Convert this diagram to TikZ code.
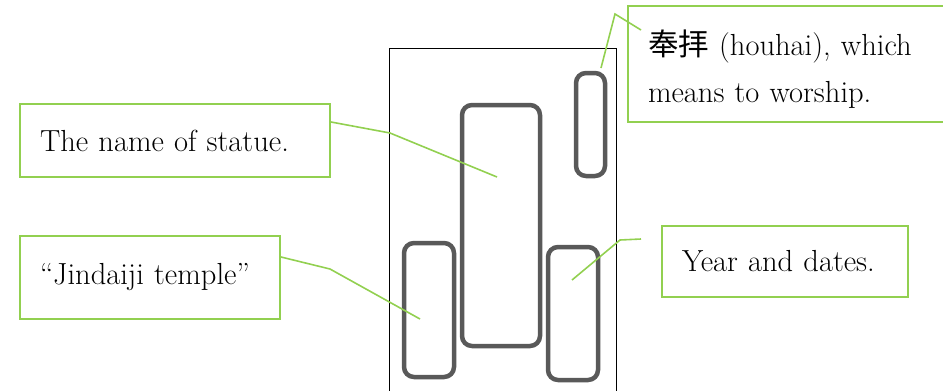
\documentclass[tikz,border=0pt]{standalone}
\usepackage{fontspec}
\usepackage{xcolor}
\usepackage{tikz}
\usetikzlibrary{positioning}
\newfontfamily\cjk{Noto Sans CJK JP}
\definecolor{cogreen}{RGB}{146,208,80}
\definecolor{cogray}{RGB}{89,89,89}
\tikzset{
  cobox/.style={draw=cogreen, line width=2pt, fill=white, align=left,
    inner xsep=20pt, inner ysep=0pt, minimum height=#1,
    font=\fontsize{30.5}{47}\selectfont},
  coline/.style={draw=cogreen, line width=1.6pt},
  stpart/.style={draw=cogray, line width=4.5pt, rounded corners=10pt,
    inner sep=0pt}
}
\begin{document}
\begin{tikzpicture}[x=1pt,y=-1pt]
  \useasboundingbox (0,0) rectangle (943,391);
  % stone outline
  \draw[line width=1pt] (389,400) -- (389,48) -- (616,48) -- (616,400);
  \node[stpart, minimum width=78pt, minimum height=241pt] (sCenter) at (501,225.5) {};
  \node[stpart, minimum width=29pt, minimum height=103pt] (sTop) at (590.5,124.5) {};
  \node[stpart, minimum width=50pt, minimum height=134pt] (sLeft) at (429,310) {};
  \node[stpart, minimum width=50pt, minimum height=133pt] (sRight) at (573,313.5) {};
  % callout boxes
  \node[cobox=73pt, text width=270pt] (nName) at (175,140.5) {The name of statue.};
  \node[cobox=83pt, text width=220pt] (nTemple) at (150,277.5) {``Jindaiji temple''};
  \node[cobox=116pt, text width=340pt] (nHouhai) at (818,64) {\rule{0pt}{36pt}{\cjk 奉拝} (houhai), which\\means to worship.};
  \node[cobox=71pt, text width=206pt] (nYear) at (785,261.5) {Year and dates.};
  % ends and bends
  \coordinate (eName) at (497,177);
  \coordinate (bName) at (390,133);
  \coordinate (eTemple) at (420,319);
  \coordinate (bTemple) at (330,269);
  \coordinate (hTip) at (641,30);
  \coordinate (bHouhai) at (615,14);
  \coordinate (eHouhai) at (601,68);
  \coordinate (yTip) at (641,239);
  \coordinate (bYear) at (620,240);
  \coordinate (eYear) at (572,280);
  \draw[coline] ([yshift=18.5pt]nName.east) -- (bName) -- (eName);
  \draw[coline] ([yshift=20.5pt]nTemple.east) -- (bTemple) -- (eTemple);
  \draw[coline] (hTip) -- (bHouhai) -- (eHouhai);
  \draw[coline] (yTip) -- (bYear) -- (eYear);
\end{tikzpicture}
\end{document}
